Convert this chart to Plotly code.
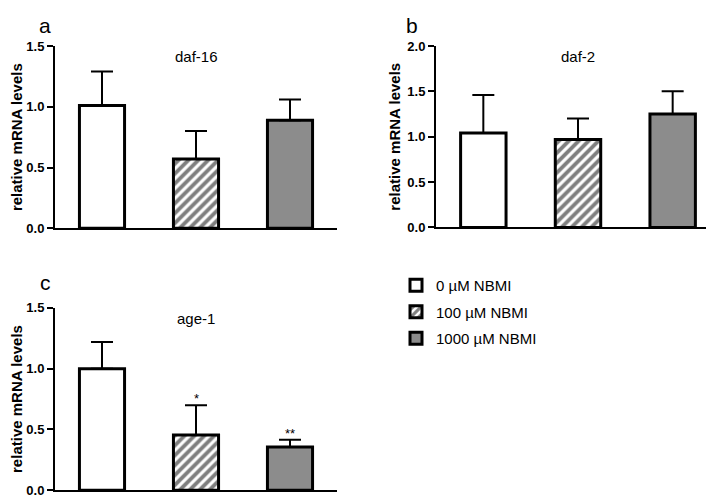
import plotly.graph_objects as go

groups = ["0 µM NBMI", "100 µM NBMI", "1000 µM NBMI"]
panels = ["daf-16", "daf-2", "age-1"]
letters = ["a", "b", "c"]

daf16_mean = [1.01, 0.57, 0.89]
daf16_err = [0.28, 0.23, 0.17]
daf2_mean = [1.04, 0.97, 1.25]
daf2_err = [0.42, 0.23, 0.25]
age1_mean = [1.00, 0.455, 0.355]
age1_err = [0.22, 0.245, 0.06]
age1_sig = ["", "*", "**"]

y_max = [1.5, 2.0, 1.5]
y_ticks = [[0, 0.5, 1.0, 1.5], [0, 0.5, 1.0, 1.5, 2.0], [0, 0.5, 1.0, 1.5]]

means = [daf16_mean, daf2_mean, age1_mean]
errs = [daf16_err, daf2_err, age1_err]

W, H = 714, 497
def px_x(a, b):
    return [a / W, b / W]
def px_y(top, bottom):
    return [1 - bottom / H, 1 - top / H]

domains = [
    (px_x(47, 329), px_y(32, 220)),
    (px_x(428, 712), px_y(32, 219)),
    (px_x(47, 329), px_y(302, 490)),
]
letter_pos = [(37, 11), (404, 11), (37, 276)]

fills = ["white", "white", "#8c8c8c"]
patterns = [dict(shape=""), dict(shape="/", fgcolor="black", bgcolor="white", size=7, solidity=0.55), dict(shape="")]

FONT = "Liberation Sans, Arial, sans-serif"
fig = go.Figure()

for p in range(3):
    xa = "x" if p == 0 else f"x{p+1}"
    ya = "y" if p == 0 else f"y{p+1}"
    for g in range(3):
        fig.add_trace(go.Bar(
            x=[g], y=[means[p][g]],
            xaxis=xa, yaxis=ya,
            name=groups[g],
            legendgroup=groups[g],
            showlegend=(p == 0),
            width=0.48,
            marker=dict(color=fills[g], pattern=patterns[g], line=dict(color="black", width=3)),
            error_y=dict(type="data", array=[errs[p][g]], arrayminus=[0], symmetric=False,
                         color="black", thickness=2, width=11),
        ))
    xd, yd = domains[p]
    suffix = "" if p == 0 else str(p + 1)
    fig.layout["xaxis" + suffix] = dict(
        domain=xd, range=[-0.5, 2.5], anchor=ya, showticklabels=False, ticks="",
        showline=True, linecolor="black", linewidth=2, showgrid=False, zeroline=False, fixedrange=True)
    fig.layout["yaxis" + suffix] = dict(
        domain=yd, range=[0, y_max[p]], anchor=xa, tickvals=y_ticks[p],
        ticktext=[f"<b>{v:.1f}</b>" for v in y_ticks[p]],
        ticks="outside", ticklen=6, tickwidth=2, tickcolor="black",
        showline=True, linecolor="black", linewidth=2, showgrid=False, zeroline=False,
        tickfont=dict(family=FONT, size=13, color="black"),
        title=dict(text="<b>relative mRNA levels</b>", font=dict(family=FONT, size=15, color="black"), standoff=3),
    )
    fig.add_annotation(text=panels[p], xref=f"{xa} domain", yref=f"{ya} domain", x=0.5, y=1.0,
                       yanchor="top", showarrow=False, font=dict(family=FONT, size=15, color="black"))
    fig.add_annotation(text=letters[p], xref="paper", yref="paper",
                       x=letter_pos[p][0] / W, y=1 - letter_pos[p][1] / H,
                       xanchor="center", yanchor="middle", showarrow=False,
                       font=dict(family=FONT, size=21, color="black"))

for g in range(3):
    if age1_sig[g]:
        fig.add_annotation(text=age1_sig[g], xref="x3", yref="y3", x=g, y=age1_mean[g] + age1_err[g],
                           yanchor="bottom", yshift=-3, showarrow=False,
                           font=dict(family=FONT, size=13, color="black"))

fig.update_layout(
    width=W, height=H, margin=dict(l=0, r=0, t=0, b=0),
    paper_bgcolor="white", plot_bgcolor="white",
    barmode="overlay",
    legend=dict(x=388 / W, y=1 - 262 / H, xanchor="left", yanchor="top",
                font=dict(family=FONT, size=15, color="black"), tracegroupgap=4,
                bgcolor="rgba(0,0,0,0)"),
)

fig.write_html("out.html")
